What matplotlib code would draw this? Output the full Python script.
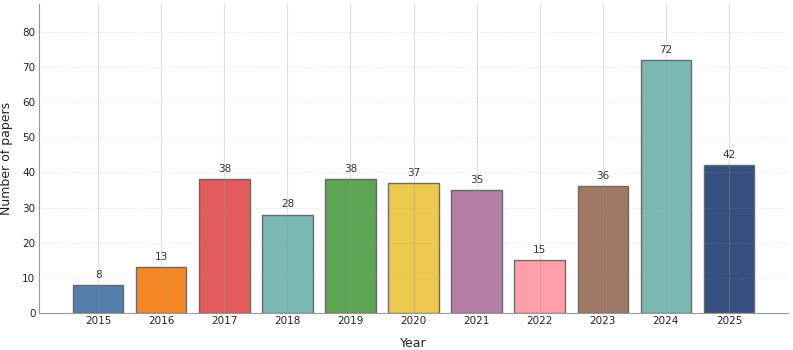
import numpy as np
import matplotlib.pyplot as plt

years = ["2015", "2016", "2017", "2018", "2019", "2020", "2021", "2022", "2023", "2024", "2025"]
papers = [8, 13, 38, 28, 38, 37, 35, 15, 36, 72, 42]
colors = ["#4e79a7", "#f5841f", "#e15759", "#76b7b2", "#59a14f", "#edc948",
          "#b07aa1", "#ff9da7", "#9c755f", "#76b7b2", "#2f4b7c"]

fig = plt.figure(figsize=(7.93, 3.5), dpi=100)
ax = fig.add_axes([0.049, 0.106, 0.945, 0.883])

x = np.arange(len(years))
bars = ax.bar(x, papers, width=0.8, color=colors, edgecolor="#666666", linewidth=1.0, alpha=0.97, zorder=2)

# value labels above bars
for b, v in zip(bars, papers):
    ax.text(b.get_x() + b.get_width() / 2, v + 1.5, str(v), ha="center", va="bottom",
            fontsize=7.5, color="#333333", zorder=4)

ax.set_xticks(x)
ax.set_xticklabels(years)
ax.set_ylim(0, 88)
ax.set_yticks(np.arange(0, 81, 10))
ax.tick_params(length=0, labelsize=7.5, labelcolor="#222222", pad=2.5)

ax.grid(axis="x", color="#999999", alpha=0.3, linewidth=0.8, linestyle="-", zorder=3)
ax.grid(axis="y", color="#999999", alpha=0.25, linewidth=0.7, linestyle=":", zorder=3)
ax.set_axisbelow(False)

for s in ["top", "right"]:
    ax.spines[s].set_visible(False)
for s in ["left", "bottom"]:
    ax.spines[s].set_color("#999999")

ax.set_xlabel("Year", fontsize=9, color="#222222", labelpad=8)
ax.set_ylabel("Number of papers", fontsize=9, color="#222222", labelpad=7)

plt.savefig("out.png", dpi=100)
